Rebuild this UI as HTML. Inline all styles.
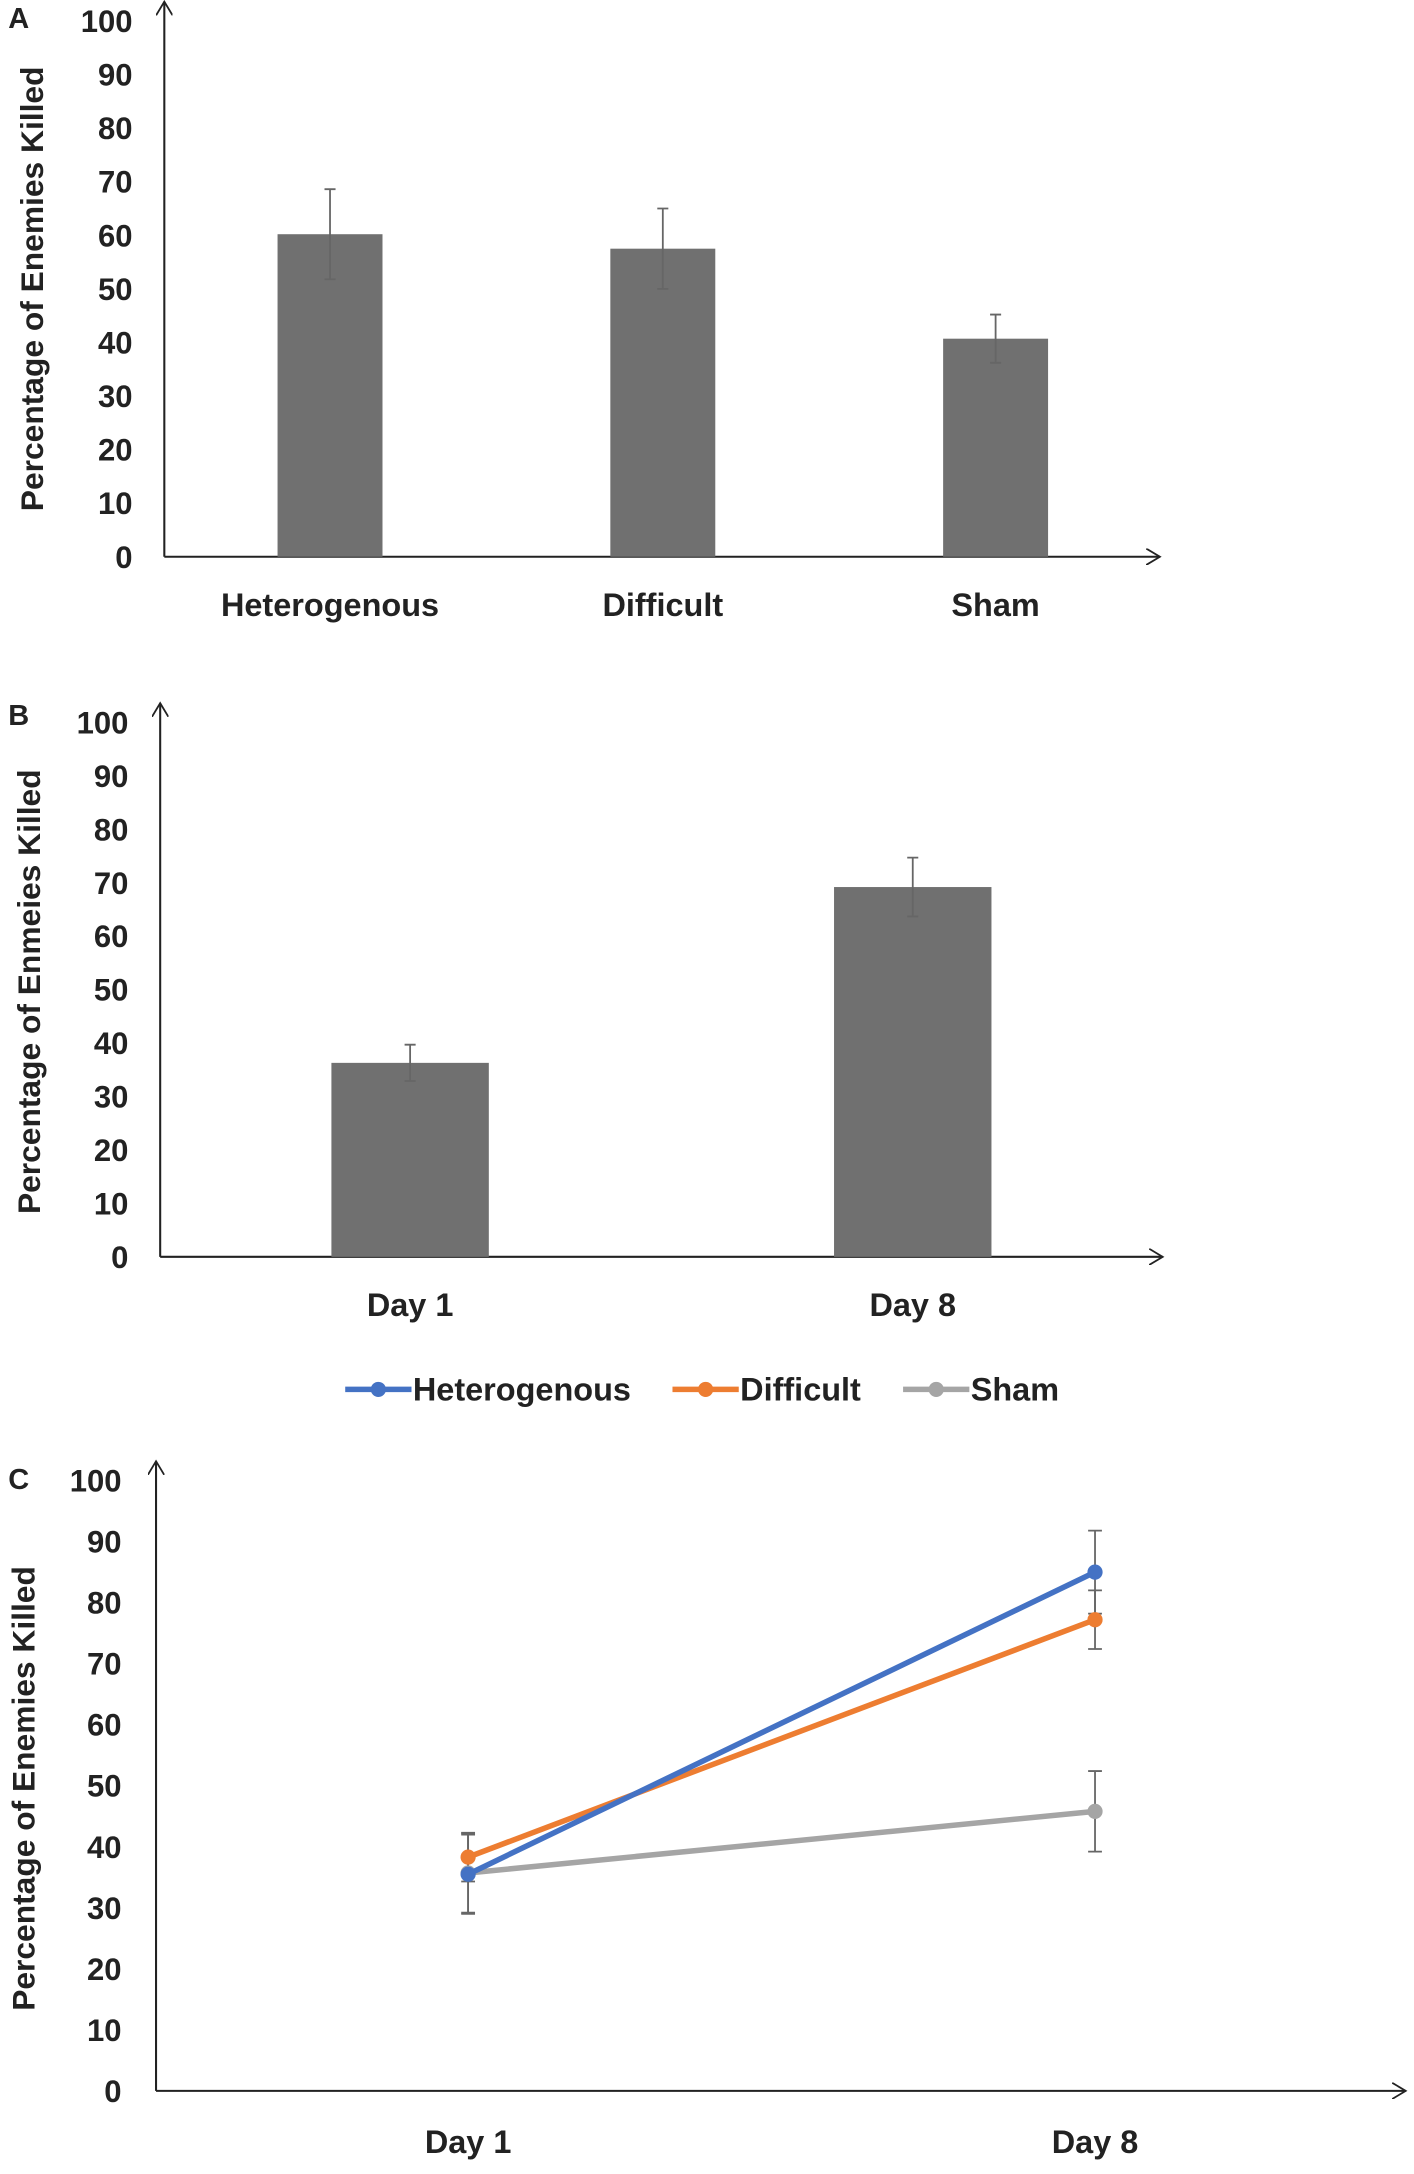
<!DOCTYPE html>
<html><head><meta charset="utf-8"><style>
html,body{margin:0;padding:0;background:#fff}
svg{display:block}
text{font-family:"Liberation Sans",Arial,sans-serif;font-weight:bold;fill:#222}
</style></head><body>
<svg id="fig" width="1414" height="2174" viewBox="0 0 1024 1574" xmlns="http://www.w3.org/2000/svg">
<defs><marker id="arr" markerWidth="12" markerHeight="12" refX="10" refY="6" orient="auto" markerUnits="userSpaceOnUse"><path d="M0,0 L10,6 L0,12" fill="none" stroke="#222" stroke-width="1.3"/></marker></defs>
<g id="gA"></g>
<g id="gB"></g>
<g id="gC"></g>
</svg>
<script>
const NS="http://www.w3.org/2000/svg";
// Panel A data
const aCats=["Heterogenous","Difficult","Sham"];
const aVals=[60.2,57.5,40.7];
const aErr=[8.4,7.5,4.5];
// Panel B data
const bCats=["Day 1","Day 8"];
const bVals=[36.3,69.2];
const bErr=[3.4,5.5];
// Panel C data
const cCats=["Day 1","Day 8"];
const cSeries=["Heterogenous","Difficult","Sham"];
const cHet=[35.5,85.0];
const cDif=[38.3,77.2];
const cSham=[35.7,45.8];
const cHetErr=[6.5,6.8];
const cDifErr=[4.0,4.8];
const cShamErr=[6.5,6.6];
const yTicks=[0,10,20,30,40,50,60,70,80,90,100];

function el(p,t,a,txt){const e=document.createElementNS(NS,t);for(const k in a)e.setAttribute(k,a[k]);if(txt!==undefined)e.textContent=txt;p.appendChild(e);return e;}

function axes(g,x0,xEnd,y0,yTop,title,ty,tx){
  const ax=el(g,"line",{x1:x0,y1:y0,x2:x0,y2:yTop-14,stroke:"#222","stroke-width":1.5,"marker-end":"url(#arr)"});
  
  
  const bx=el(g,"line",{x1:x0,y1:y0,x2:xEnd,y2:y0,stroke:"#222","stroke-width":1.5,"marker-end":"url(#arr)"});
  
  
  const t=el(g,"text",{x:0,y:0,"font-size":23,"text-anchor":"middle",transform:`translate(${tx},${ty}) rotate(-90)`},title);
  
  
}
function yLabels(g,x0,ys){
  yTicks.forEach(v=>{const t=el(g,"text",{x:x0-25,y:ys(v)+8,"font-size":22.5,"text-anchor":"end"},v);
    
    });
}
function errBar(g,x,yHi,yLo,w){
  const e=el(g,"path",{d:`M${x},${yHi}V${yLo}M${x-w},${yHi}H${x+w}M${x-w},${yLo}H${x+w}`,stroke:"#666","stroke-width":1.3,fill:"none"});
  
  
}
function panelLetter(g,l,y){const t=el(g,"text",{x:6,y:y,"font-size":21},l);
  
  }

// Panel A
(function(){
  const g=document.getElementById("gA");
  const x0=119,y0=403,yTop=15,xEnd=840;
  const ys=v=>y0-(y0-yTop)*v/100;
  panelLetter(g,"A",20);
  axes(g,x0,xEnd,y0,yTop,"Percentage of Enemies Killed",209,31);
  yLabels(g,x0+2,ys);
  const step=241,first=239,bw=76;
  aCats.forEach((c,i)=>{const cx=first+i*step;
    const b=el(g,"rect",{x:cx-bw/2,y:ys(aVals[i]),width:bw,height:y0-ys(aVals[i]),fill:"#707070"});
    
    
    errBar(g,cx,ys(aVals[i]+aErr[i]),ys(aVals[i]-aErr[i]),4);
    const t=el(g,"text",{x:cx,y:446,"font-size":23.5,"text-anchor":"middle"},c);
    
    });
})();

// Panel B
(function(){
  const g=document.getElementById("gB");
  const x0=116,y0=910,yTop=523,xEnd=842;
  const ys=v=>y0-(y0-yTop)*v/100;
  panelLetter(g,"B",525);
  axes(g,x0,xEnd,y0,yTop,"Percentage of Enmeies Killed",718,29);
  yLabels(g,x0+2,ys);
  const first=297,step=364,bw=114;
  bCats.forEach((c,i)=>{const cx=first+i*step;
    const b=el(g,"rect",{x:cx-bw/2,y:ys(bVals[i]),width:bw,height:y0-ys(bVals[i]),fill:"#707070"});
    
    
    errBar(g,cx,ys(bVals[i]+bErr[i]),ys(bVals[i]-bErr[i]),4);
    const t=el(g,"text",{x:cx,y:953,"font-size":23.5,"text-anchor":"middle"},c);
    
    });
})();

// Panel C
(function(){
  const g=document.getElementById("gC");
  const x0=113,y0=1514,yTop=1072,xEnd=1018;
  const ys=v=>y0-(y0-yTop)*v/100;
  const xs=i=>339+i*454;
  panelLetter(g,"C",1078);
  axes(g,x0,xEnd,y0,yTop,"Percentage of Enemies Killed",1295,25);
  yLabels(g,x0,ys);
  const colors=["#4472c4","#ed7d31","#a5a5a5"];
  const vals=[cHet,cDif,cSham], errs=[cHetErr,cDifErr,cShamErr];
  const lx=[250,487,654];
  cSeries.forEach((s,k)=>{
    const lg=el(g,"g",{});
    
    
    el(lg,"line",{x1:lx[k],y1:1006,x2:lx[k]+48,y2:1006,stroke:colors[k],"stroke-width":4});
    el(lg,"circle",{cx:lx[k]+24,cy:1006,r:5.5,fill:colors[k]});
    el(lg,"text",{x:lx[k]+49,y:1014,"font-size":23.5},s);
  });
  [2,1,0].forEach(k=>{vals[k].forEach((v,i)=>errBar(g,xs(i),ys(v+errs[k][i]),ys(v-errs[k][i]),5));});
  [2,1,0].forEach(k=>{
    const pts=vals[k].map((v,i)=>xs(i)+","+ys(v)).join(" ");
    const l=el(g,"polyline",{points:pts,fill:"none",stroke:colors[k],"stroke-width":4});
    
    
    vals[k].forEach((v,i)=>{const c=el(g,"circle",{cx:xs(i),cy:ys(v),r:5.5,fill:colors[k]});
      
      });
  });
  cCats.forEach((c,i)=>{const t=el(g,"text",{x:xs(i),y:1559,"font-size":23.5,"text-anchor":"middle"},c);
    
    });
})();
</script>
</body></html>
